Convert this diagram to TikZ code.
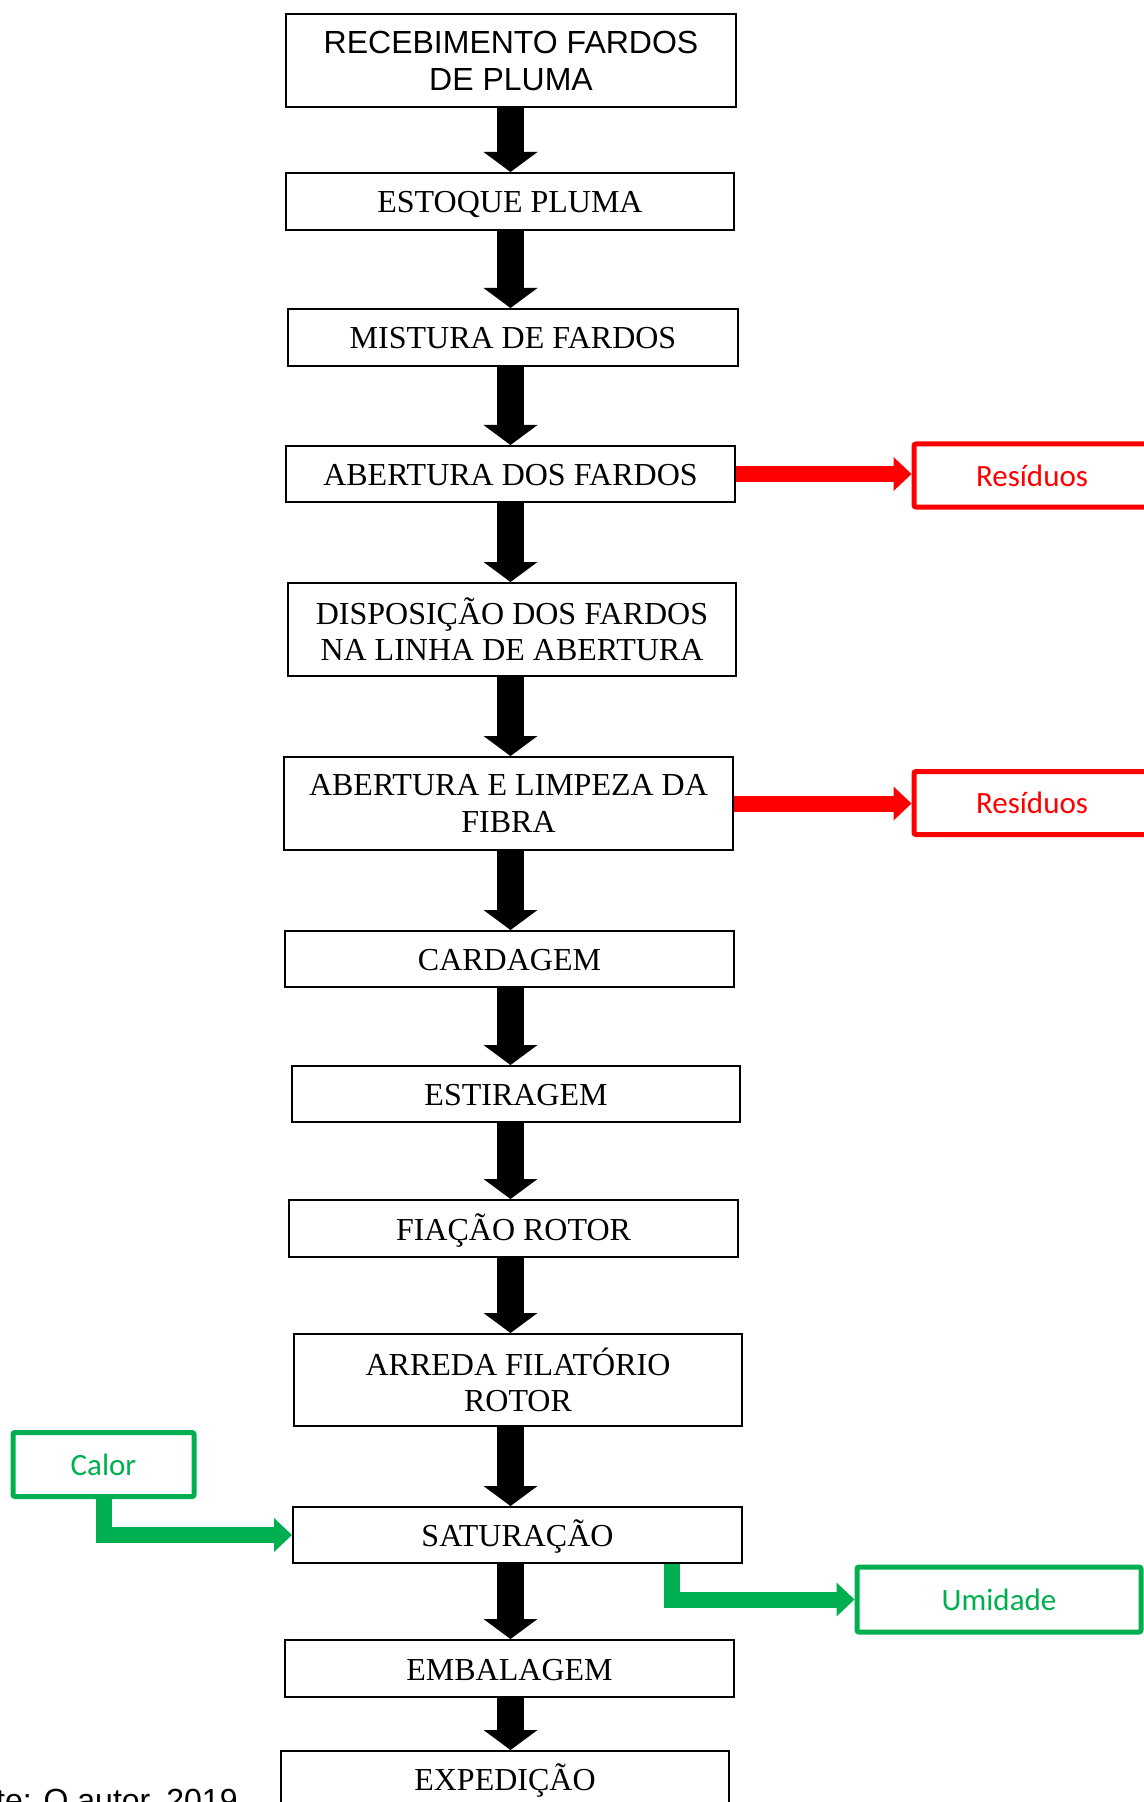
\documentclass[tikz,border=0pt]{standalone}
\usepackage{fontspec}
\setmainfont{Liberation Serif}
\newfontfamily\arialf{Liberation Sans}
\newfontfamily\calibrif{Carlito}
\usetikzlibrary{arrows.meta}
\definecolor{wastered}{HTML}{FF0000}
\definecolor{flowgreen}{HTML}{00B050}
\tikzset{
  stepbox/.style={draw=black, line width=1pt, fill=white, align=center, inner sep=0pt,
    font=\fontsize{16}{18.2}\selectfont},
  oneline/.style={text height=11.5pt, text depth=0pt},
  sidebox/.style={draw=#1, line width=2.5pt, rounded corners=1pt, fill=white, text=#1,
    inner sep=0pt, font=\calibrif\fontsize{15.5}{18}\selectfont},
  flowarrow/.style={line width=13.5pt, -{Triangle[width=27pt,length=10pt,line width=0pt]}},
  sidearrow/.style={draw=#1, line width=8pt, line join=miter,
    -{Triangle[width=17pt,length=9pt,line width=0pt,fill=#1]}},
}
\begin{document}
\begin{tikzpicture}[x=0.5pt, y=-0.5pt]
\useasboundingbox (0,0) rectangle (1144,1802);
\clip (0,0) rectangle (1144,1802);

% process steps
\node[stepbox, font=\arialf\fontsize{16}{18.5}\selectfont, minimum width=225pt, minimum height=46.5pt] (rec) at (511,61) {RECEBIMENTO FARDOS\\DE PLUMA};
\node[stepbox, oneline, minimum width=224pt, minimum height=28.5pt] (est) at (510,201.5) {ESTOQUE PLUMA};
\node[stepbox, oneline, minimum width=225pt, minimum height=28.5pt] (mis) at (513,337.5) {MISTURA DE FARDOS};
\node[stepbox, oneline, minimum width=224.5pt, minimum height=28pt] (abd) at (510.5,474) {ABERTURA DOS FARDOS};
\node[stepbox, minimum width=224pt, minimum height=46.5pt] (dis) at (512,629.5) {DISPOSIÇÃO DOS FARDOS\\NA LINHA DE ABERTURA};
\node[stepbox, minimum width=224.5pt, minimum height=46.5pt] (alf) at (508.5,803.5) {ABERTURA E LIMPEZA DA\\FIBRA};
\node[stepbox, oneline, minimum width=224.5pt, minimum height=28pt] (car) at (509.5,959) {CARDAGEM};
\node[stepbox, oneline, minimum width=224pt, minimum height=28pt] (estr) at (516,1094) {ESTIRAGEM};
\node[stepbox, oneline, minimum width=224.5pt, minimum height=28.5pt] (fia) at (513.5,1228.5) {FIAÇÃO ROTOR};
\node[stepbox, minimum width=224pt, minimum height=46pt] (arr) at (518,1380) {ARREDA FILATÓRIO\\ROTOR};
\node[stepbox, oneline, minimum width=224.5pt, minimum height=28pt] (sat) at (517.5,1535) {SATURAÇÃO};
\node[stepbox, oneline, minimum width=224.5pt, minimum height=28.5pt] (emb) at (509.5,1668.5) {EMBALAGEM};
\node[stepbox, oneline, minimum width=224pt, minimum height=28pt] (exp) at (505,1779) {EXPEDIÇÃO};

% side outputs and inputs
\node[sidebox=wastered, minimum width=118pt, minimum height=31.5pt] (res1) at (1032,475.5) {Resíduos};
\node[sidebox=wastered, minimum width=118pt, minimum height=31.5pt] (res2) at (1032,803) {Resíduos};
\node[sidebox=flowgreen, minimum width=90.5pt, minimum height=32pt] (calor) at (103.5,1464.5) {Calor};
\node[sidebox=flowgreen, minimum width=142pt, minimum height=32.5pt] (umid) at (999,1599.5) {Umidade};

% axes of the vertical flow and of the moisture outlet
\coordinate (ax) at (510.5,0);
\coordinate (ux) at (672,0);

% main flow
\draw[flowarrow] (rec.south -| ax) -- (est.north -| ax);
\draw[flowarrow] (est.south -| ax) -- (mis.north -| ax);
\draw[flowarrow] (mis.south -| ax) -- (abd.north -| ax);
\draw[flowarrow] (abd.south -| ax) -- (dis.north -| ax);
\draw[flowarrow] (dis.south -| ax) -- (alf.north -| ax);
\draw[flowarrow] (alf.south -| ax) -- (car.north -| ax);
\draw[flowarrow] (car.south -| ax) -- (estr.north -| ax);
\draw[flowarrow] (estr.south -| ax) -- (fia.north -| ax);
\draw[flowarrow] (fia.south -| ax) -- (arr.north -| ax);
\draw[flowarrow] (arr.south -| ax) -- (sat.north -| ax);
\draw[flowarrow] (sat.south -| ax) -- (emb.north -| ax);
\draw[flowarrow] (emb.south -| ax) -- (exp.north -| ax);

% residues
\draw[sidearrow=wastered] (abd.east) -- (res1.west |- abd.east);
\draw[sidearrow=wastered] (alf.east) -- (res2.west |- alf.east);

% heat in, moisture out
\draw[sidearrow=flowgreen] (calor.south) -- (calor.south |- sat.west) -- (sat.west);
\draw[sidearrow=flowgreen] (sat.south -| ux) -- (ux |- umid.west) -- (umid.west);

% source line
\node[font=\arialf\fontsize{16}{19}\selectfont, anchor=base east, inner sep=0pt] (src) at (238,1811) {Fonte: O autor, 2019};
\end{tikzpicture}
\end{document}
